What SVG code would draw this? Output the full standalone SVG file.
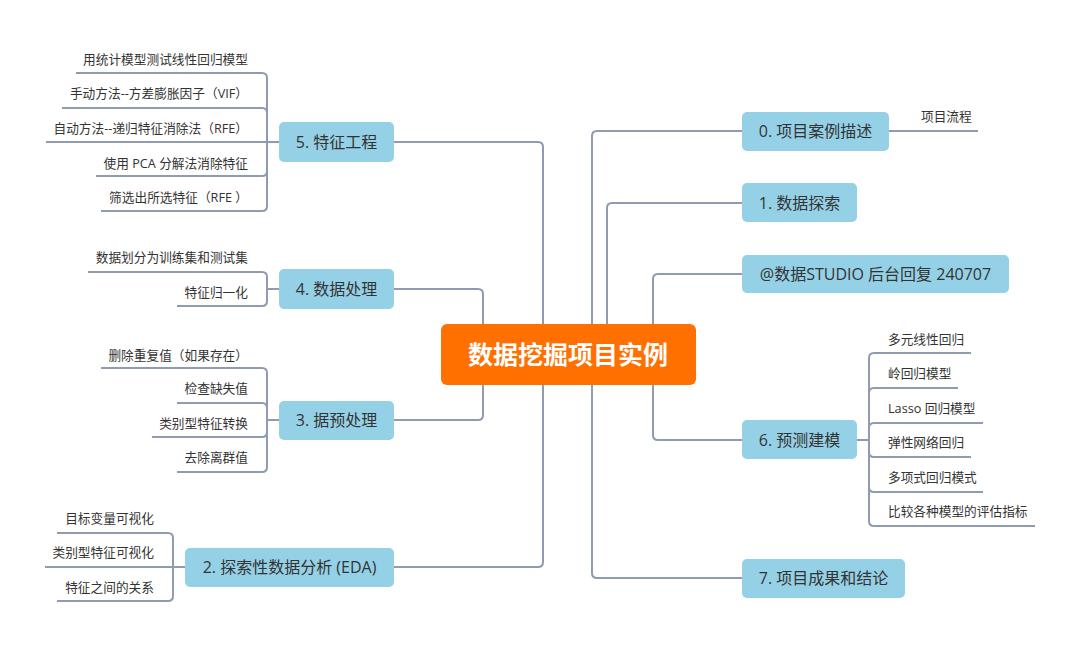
<svg xmlns="http://www.w3.org/2000/svg" width="1080" height="648" viewBox="0 0 1080 648">
<style>
.c{fill:none;stroke:#8F9BAE;stroke-width:2;stroke-linejoin:round}
.n{fill:#95D1E6}
.nt{font-family:"Open Sans","Noto Sans CJK SC",sans-serif;font-size:16px;fill:#333;text-anchor:middle}
.l{font-family:"Open Sans","Noto Sans CJK SC",sans-serif;font-size:12.7px;fill:#333}
.le{text-anchor:end}
.root{fill:#FF7000}
.rt{font-family:"Noto Sans CJK SC",sans-serif;font-size:25px;font-weight:bold;fill:#fff;text-anchor:middle}
</style>
<rect width="1080" height="648" fill="#fff"/>
<g id="connectors">
<path class="c" d="M543,354 V147 Q543,142 538,142 H394"/>
<path class="c" d="M543,354 V562 Q543,567 538,567 H394"/>
<path class="c" d="M483,354 V294 Q483,289 478,289 H394"/>
<path class="c" d="M483,354 V415 Q483,420 478,420 H394"/>
<path class="c" d="M592,354 V136 Q592,131 597,131 H742"/>
<path class="c" d="M592,354 V573 Q592,578 597,578 H742"/>
<path class="c" d="M607,354 V208 Q607,203 612,203 H742"/>
<path class="c" d="M653,354 V279 Q653,274 658,274 H742"/>
<path class="c" d="M653,354 V435 Q653,440 658,440 H742"/>
<path class="c" d="M889,131 H978"/>
<path class="c" d="M857,440 H869 V358 Q869,353 874,353 H971"/>
<path class="c" d="M857,440 H869 V393 Q869,388 874,388 H958"/>
<path class="c" d="M857,440 H869 V428 Q869,423 874,423 H983"/>
<path class="c" d="M857,440 H869 V452 Q869,457 874,457 H971"/>
<path class="c" d="M857,440 H869 V487 Q869,492 874,492 H983"/>
<path class="c" d="M857,440 H869 V521 Q869,526 874,526 H1035"/>
<path class="c" d="M279,142 H267 V78 Q267,73 262,73 H76"/>
<path class="c" d="M279,142 H267 V113 Q267,108 262,108 H62"/>
<path class="c" d="M279,142 H46"/>
<path class="c" d="M279,142 H267 V171 Q267,176 262,176 H96"/>
<path class="c" d="M279,142 H267 V206 Q267,211 262,211 H101"/>
<path class="c" d="M279,289 H267 V277 Q267,272 262,272 H88"/>
<path class="c" d="M279,289 H267 V301 Q267,306 262,306 H177"/>
<path class="c" d="M279,420 H267 V373 Q267,368 262,368 H101"/>
<path class="c" d="M279,420 H267 V408 Q267,403 262,403 H177"/>
<path class="c" d="M279,420 H267 V432 Q267,437 262,437 H152"/>
<path class="c" d="M279,420 H267 V467 Q267,472 262,472 H177"/>
<path class="c" d="M185,567 H173 V538 Q173,533 168,533 H57"/>
<path class="c" d="M185,567 H45"/>
<path class="c" d="M185,567 H173 V596 Q173,601 168,601 H57"/>
</g>
<g id="root"><rect class="root" x="441" y="324" width="255" height="61" rx="6"/><text class="rt" x="568" y="363.5">数据挖掘项目实例</text></g>
<g id="n5"><rect class="n" x="279" y="122" width="115" height="40" rx="5"/><text class="nt" x="336.5" y="147.5">5. 特征工程</text></g>
<g id="n4"><rect class="n" x="279" y="269" width="115" height="40" rx="5"/><text class="nt" x="336.5" y="294.5">4. 数据处理</text></g>
<g id="n3"><rect class="n" x="279" y="401" width="115" height="39" rx="5"/><text class="nt" x="336.5" y="426">3. 据预处理</text></g>
<g id="n2"><rect class="n" x="185" y="548" width="209" height="39" rx="5"/><text class="nt" x="289.5" y="573">2. 探索性数据分析 (EDA)</text></g>
<g id="n0"><rect class="n" x="742" y="112" width="147" height="39" rx="5"/><text class="nt" x="815.5" y="137">0. 项目案例描述</text></g>
<g id="n1"><rect class="n" x="742" y="183" width="115" height="39" rx="5"/><text class="nt" x="799.5" y="208.5">1. 数据探索</text></g>
<g id="nS"><rect class="n" x="742" y="255" width="267" height="38" rx="5"/><text class="nt" x="875.5" y="279.5">@数据STUDIO 后台回复 240707</text></g>
<g id="n6"><rect class="n" x="742" y="420" width="115" height="39" rx="5"/><text class="nt" x="799.5" y="445.5">6. 预测建模</text></g>
<g id="n7"><rect class="n" x="742" y="559" width="163" height="39" rx="5"/><text class="nt" x="823.5" y="584">7. 项目成果和结论</text></g>
<g id="leaves">
<text class="l" x="921" y="121">项目流程</text>
<text class="l" x="888" y="343.5">多元线性回归</text>
<text class="l" x="888" y="377.5">岭回归模型</text>
<text class="l" x="888" y="412.5">Lasso 回归模型</text>
<text class="l" x="888" y="446.5">弹性网络回归</text>
<text class="l" x="888" y="481.5">多项式回归模式</text>
<text class="l" x="888" y="515.5">比较各种模型的评估指标</text>
<text class="l le" x="248" y="63.5">用统计模型测试线性回归模型</text>
<text class="l le" x="248" y="97.5">手动方法--方差膨胀因子（VIF）</text>
<text class="l le" x="248" y="132.5">自动方法--递归特征消除法（RFE）</text>
<text class="l le" x="248" y="167.5">使用 PCA 分解法消除特征</text>
<text class="l le" x="248" y="201.5">筛选出所选特征（RFE ）</text>
<text class="l le" x="248" y="261.5">数据划分为训练集和测试集</text>
<text class="l le" x="248" y="296.5">特征归一化</text>
<text class="l le" x="248" y="359.5">删除重复值（如果存在）</text>
<text class="l le" x="248" y="392.5">检查缺失值</text>
<text class="l le" x="248" y="427.5">类别型特征转换</text>
<text class="l le" x="248" y="461.5">去除离群值</text>
<text class="l le" x="154" y="522.5">目标变量可视化</text>
<text class="l le" x="154" y="556.5">类别型特征可视化</text>
<text class="l le" x="154" y="591.5">特征之间的关系</text>
</g>
</svg>
